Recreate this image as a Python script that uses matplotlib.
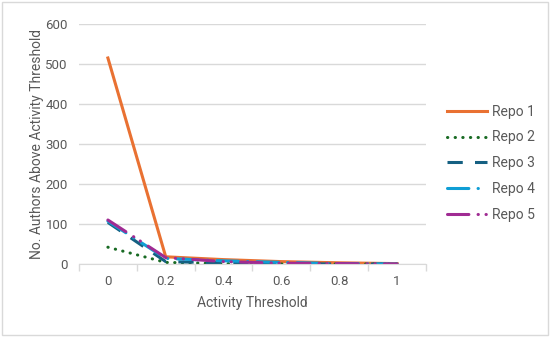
import numpy as np
import matplotlib.pyplot as plt
from matplotlib.patches import Rectangle

plt.rcParams['font.family'] = ['Roboto', 'DejaVu Sans']

# data
thresholds = ['0', '0.2', '0.4', '0.6', '0.8', '1']
repo1 = [515, 18, 11, 6, 3, 1]
repo2 = [42, 4, 1, 0, 0, 0]
repo3 = [104, 6, 3, 1, 0, 0]
repo4 = [107, 14, 8, 4, 1, 0]
repo5 = [110, 16, 6, 2, 1, 0]
names = ['Repo 1', 'Repo 2', 'Repo 3', 'Repo 4', 'Repo 5']

colors = ['#E97132', '#196B24', '#156082', '#0F9ED5', '#A02B93']
styles = ['-', (0, (0.1, 2.4)), (0, (5, 4)), (0, (7, 3, 0.1, 3)), (0, (7, 3, 0.1, 2.5, 0.1, 3))]

fig = plt.figure(figsize=(5.5, 3.37), dpi=100)
fig.patches.append(Rectangle((0.004, 0.006), 0.992, 0.988, transform=fig.transFigure,
                             fill=False, edgecolor='#D9D9D9', linewidth=1))
ax = fig.add_axes([0.1436, 0.2166, 0.6309, 0.7122])

x = np.arange(len(thresholds))
for vals, name, c, ls in zip([repo1, repo2, repo3, repo4, repo5], names, colors, styles):
    cap = 'butt' if name in ('Repo 1', 'Repo 3') else 'round'
    ax.plot(x, vals, color=c, linestyle=ls, linewidth=2.2, label=name,
            dash_capstyle=cap)

ax.set_xlim(-0.5, len(thresholds) - 0.5)
ax.set_ylim(0, 600)
ax.set_yticks(range(0, 601, 100))
ax.set_xticks(x)
ax.set_xticklabels(thresholds)
ax.set_xticks(np.arange(-0.5, len(thresholds)), minor=True)
ax.tick_params(axis='x', which='major', length=0, pad=8, labelsize=9.5, colors='#595959')
ax.tick_params(axis='x', which='minor', length=5, color='#D9D9D9', width=1)
ax.tick_params(axis='y', length=0, labelsize=9.5, colors='#595959', pad=8)
ax.grid(axis='y', color='#D9D9D9', linewidth=1)
ax.set_axisbelow(True)
for s in ['top', 'right', 'left']:
    ax.spines[s].set_visible(False)
ax.spines['bottom'].set_color('#D9D9D9')

ax.set_xlabel('Activity Threshold', fontsize=10, color='#595959', labelpad=6)
ax.set_ylabel('No. Authors Above Activity Threshold', fontsize=10, color='#595959', labelpad=1)

ax.legend(loc='center left', bbox_to_anchor=(1.025, 0.42), frameon=False, fontsize=10,
          labelcolor='#595959', handlelength=2.9, labelspacing=0.85, handletextpad=0.3)

plt.savefig('out.png', dpi=100)
